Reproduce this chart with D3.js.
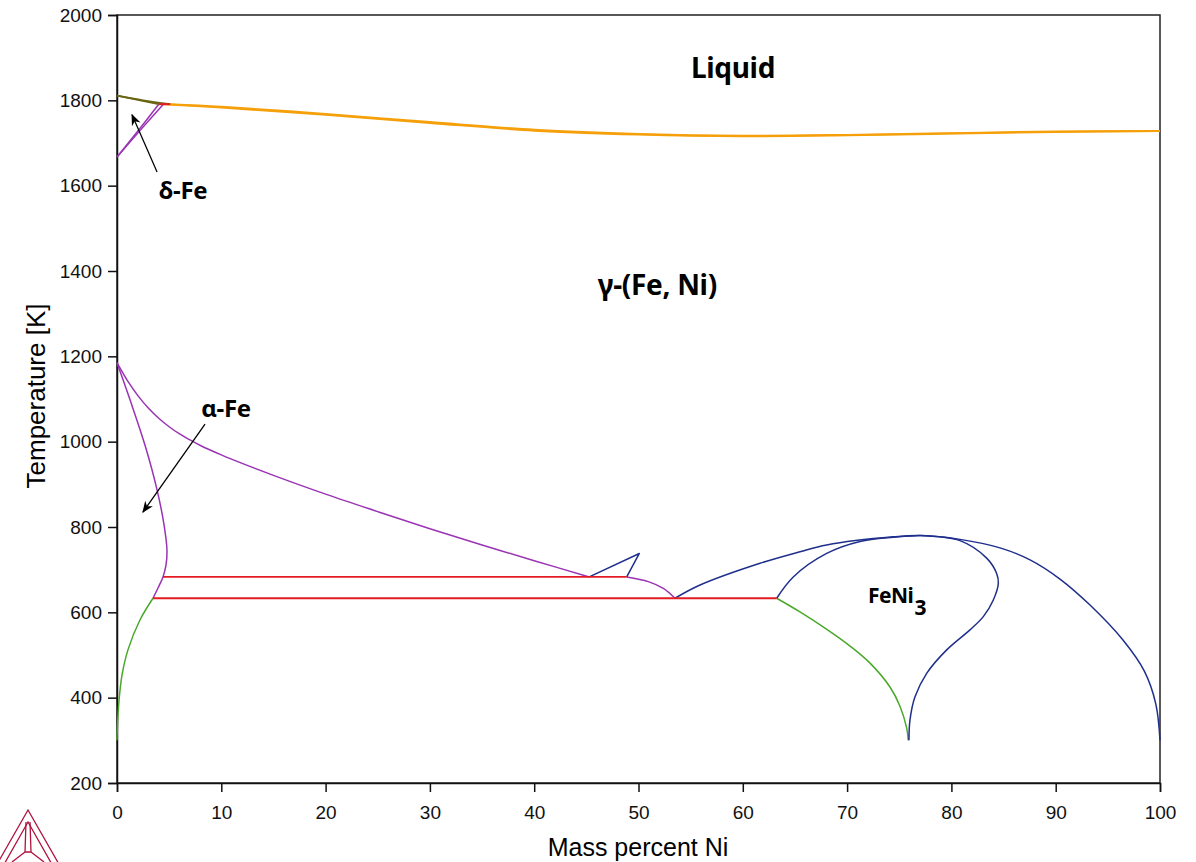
<!DOCTYPE html>
<html><head><meta charset="utf-8">
<script src="https://cdn.jsdelivr.net/npm/d3@7"></script>
<style>body{margin:0;background:#fff}</style>
</head><body>
<svg id="c" width="1196" height="862"></svg>
<script>
const xTicks = [0,10,20,30,40,50,60,70,80,90,100];
const yTicks = [200,400,600,800,1000,1200,1400,1600,1800,2000];

// phase boundaries: [mass % Ni, T (K)]
const deltaLiq1 = [[0,1811],[2,1801],[4.0,1791]];
const deltaLiq2 = [[0,1811],[2.5,1800],[5.1,1791]];
const deltaBound1 = [[0,1667],[2.2,1729],[4.45,1791]];
const deltaBound2 = [[0,1667],[2.0,1728],[4.0,1791]];
const peritectic = [[4.0,1791],[5.1,1791]];
const liquidus = [[5.1,1791],[10,1785],[20,1768],[30,1749],[40,1731],[50,1721],[60,1717],[70,1719],[80,1723],[90,1727],[100,1728]];
const solidus = [[4.45,1791],[10,1783],[20,1766],[30,1747],[40,1729],[50,1720],[60,1716],[70,1718],[80,1722],[90,1726],[100,1728]];
const alphaBound = [[0,1185],[1.25,1098],[2.68,992],[3.84,887],[4.51,805],[4.79,746],[4.70,711],[4.41,683],[3.93,657],[3.45,633]];
const gammaBound = [[0,1185],[1,1143],[2,1108],[3,1079],[4,1055],[5,1035],[6,1018],[7,1004],[8,991],[10,969],[12,949],[15,921],[20,877],[25,836],[30,796],[35,758],[40,721],[45.28,683]];
const gammaMid = [[48.87,683],[50.94,672],[52.38,656],[53.5,633]];
const triangle = [[45.28,683],[50.08,738],[48.87,683]];
const eutUpper = [[4.41,683],[48.87,683]];
const eutLower = [[3.45,633],[63.25,633]];
const orderOuter = [[53.5,633],[55.9,664],[61.65,715],[65.48,742],[68.04,758],[74.43,777],[77,780],[80.82,771],[84.66,751],[87.54,723],[90.41,678],[93.29,617],[96.45,535],[98.5,462],[99.6,385],[100,300]];
const feni3Left = [[63.25,633],[64.84,683],[68.04,738],[71.24,766],[74.43,776],[77,780]];
const feni3Right = [[77,780],[80.82,768],[83.38,727],[84.34,691],[84.5,668],[84.02,629],[83.06,590],[81.78,559],[79.55,512],[77.63,457],[76.51,402],[76.03,348],[75.93,300]];
const greenLeft = [[3.45,633],[2.2,582],[1.05,512],[0.48,453],[0.2,395],[0.04,330],[0,300]];
const greenRight = [[63.25,633],[65.48,601],[67.88,563],[70.28,521],[72.2,481],[74.11,425],[75.07,380],[75.71,329],[75.87,300]];

const labels = [
  {t:"Liquid", x:59.06, y:1878, size:28},
  {t:"γ-(Fe, Ni)", x:51.8, y:1370, size:28},
  {t:"δ-Fe", x:6.33, y:1592, size:24},
  {t:"α-Fe", x:10.45, y:1079, size:24}
];
const arrows = [
  {from:[3.84,1632], to:[1.44,1766]},
  {from:[8.44,1041], to:[2.49,835]}
];

const svg = d3.select("#c");
const x = d3.scaleLinear().domain([0,100]).range([117,1160]);
const y = d3.scaleLinear().domain([200,2000]).range([783,15]);

svg.append("defs").append("marker").attr("id","ah")
  .attr("viewBox","0 0 10 10").attr("refX",9).attr("refY",5)
  .attr("markerWidth",9).attr("markerHeight",9).attr("orient","auto")
  .append("path").attr("d","M0,1 L10,5 L0,9 L3,5 Z").attr("fill","#000");

// frame
svg.append("rect").attr("x",x(0)).attr("y",y(2000)).attr("width",x(100)-x(0)).attr("height",y(200)-y(2000))
  .attr("fill","none").attr("stroke","#222").attr("stroke-width",1.5);

const tickFont = "Liberation Sans, Arial, sans-serif";
const xa = svg.append("g").attr("transform",`translate(0,${y(200)})`)
  .call(d3.axisBottom(x).tickValues(xTicks).tickSize(9).tickPadding(14));
const ya = svg.append("g").attr("transform",`translate(${x(0)},0)`)
  .call(d3.axisLeft(y).tickValues(yTicks).tickSize(9).tickPadding(6).tickFormat(d3.format("d")));
[xa,ya].forEach(a=>{
  a.selectAll("path,line").attr("stroke","#111").attr("stroke-width",1.5);
  a.selectAll("text").attr("font-family",tickFont).attr("font-size",19).attr("fill","#111");
});

svg.append("text").attr("x",638).attr("y",856).attr("text-anchor","middle")
  .attr("font-family",tickFont).attr("font-size",25).text("Mass percent Ni");
svg.append("text").attr("transform","translate(45,396) rotate(-90)").attr("text-anchor","middle")
  .attr("font-family",tickFont).attr("font-size",26).text("Temperature [K]");

const curve = d3.line().x(d=>x(d[0])).y(d=>y(d[1])).curve(d3.curveCatmullRom.alpha(0.5));
const straight = d3.line().x(d=>x(d[0])).y(d=>y(d[1]));

const purple="#9a33b5", red="#e41b23", blue="#1f2f8c", green="#4aa82a", orange="#f5a00a", olive="#6a6512";
const series = [
  [gammaBound,purple,1.5,curve],[alphaBound,purple,1.5,curve],[gammaMid,purple,1.5,curve],
  [deltaBound1,purple,1.5,curve],[deltaBound2,purple,1.5,curve],
  [greenLeft,green,1.5,curve],[greenRight,green,1.5,curve],
  [orderOuter,blue,1.5,curve],[feni3Left,blue,1.5,curve],[feni3Right,blue,1.5,curve],[triangle,blue,1.5,straight],
  [eutUpper,red,1.8,straight],[eutLower,red,1.8,straight],
  [liquidus,orange,2,curve],[solidus,orange,2,curve],
  [deltaLiq1,olive,1.8,curve],[deltaLiq2,olive,1.8,curve],[peritectic,red,2,straight]
];
series.forEach(([d,c,w,gen])=>{
  svg.append("path").attr("d",gen(d)).attr("fill","none").attr("stroke",c).attr("stroke-width",w).attr("stroke-linejoin","round");
});

const labFont = "Noto Sans, Open Sans, sans-serif";
labels.forEach(l=>{
  svg.append("text").attr("x",x(l.x)).attr("y",y(l.y)).attr("text-anchor","middle").attr("dominant-baseline","central")
    .attr("font-family",labFont).attr("font-weight","bold").attr("font-size",l.size)
    .attr("letter-spacing","-0.3").text(l.t);
});
const fe = svg.append("text").attr("x",x(72)).attr("y",y(641)).attr("dominant-baseline","central")
  .attr("font-family",labFont).attr("font-weight","bold").attr("font-size",21).attr("letter-spacing","-0.5");
fe.append("tspan").text("FeNi");
fe.append("tspan").attr("dy",12).attr("dx",1).text("3");

arrows.forEach(a=>{
  svg.append("line").attr("x1",x(a.from[0])).attr("y1",y(a.from[1])).attr("x2",x(a.to[0])).attr("y2",y(a.to[1]))
    .attr("stroke","#000").attr("stroke-width",1.3).attr("marker-end","url(#ah)");
});

// logo (Thermo-Calc style nested triangles)
const logo = svg.append("g").attr("fill","none").attr("stroke","#b0123f").attr("stroke-width",1.3);
const lp = [
  [[28,810],[-12,880],[68,880]],
  [[28,822],[-2,875],[58,875]]
];
lp.forEach(p=>logo.append("path").attr("d",d3.line()(p)+"Z"));
logo.append("path").attr("d","M26,822 L25,852 L31,852 L30,822 M25,852 L12,862 M31,852 L44,862 M25,852 L31,852");
</script>
</body></html>
